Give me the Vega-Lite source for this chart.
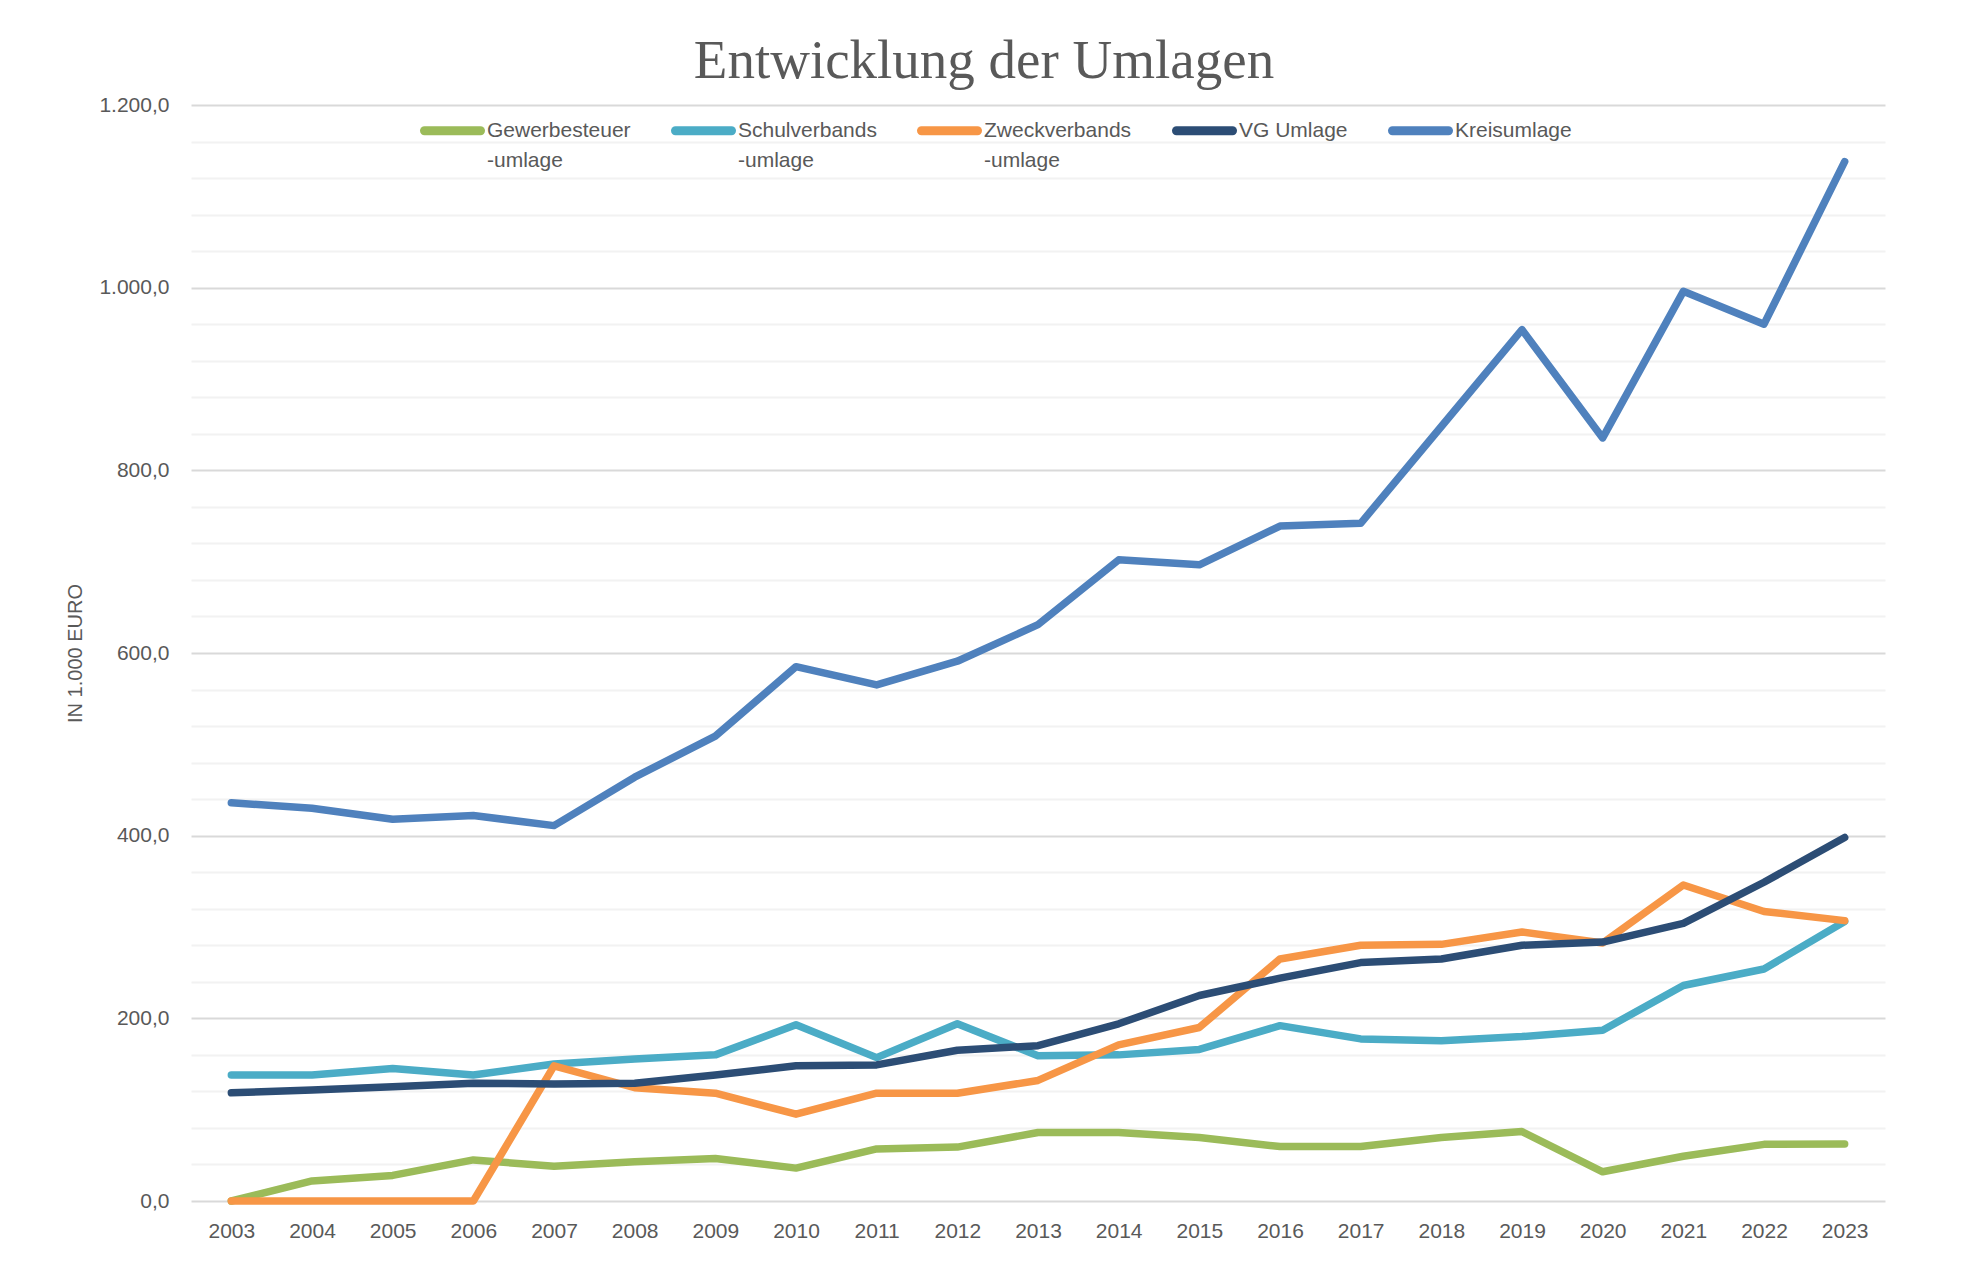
{
  "$schema": "https://vega.github.io/schema/vega-lite/v6.json",
  "width": 1694,
  "height": 1096,
  "autosize": {"type": "none"},
  "padding": {"left": 191, "top": 105, "right": 83, "bottom": 60},
  "background": "white",
  "config": {
    "view": {"stroke": null},
    "style": {"guide-label": {"lineHeight": 30}}
  },
  "title": {
    "text": "Entwicklung der Umlagen",
    "font": "Liberation Serif",
    "fontSize": 55,
    "fontWeight": "normal",
    "color": "#595959",
    "anchor": "middle",
    "dx": -54,
    "dy": 55,
    "offset": 16,
    "baseline": "alphabetic"
  },
  "data": {
    "values": [
      {"year": "2003", "series": "Gewerbesteuer|-umlage", "value": 0},
      {"year": "2004", "series": "Gewerbesteuer|-umlage", "value": 22},
      {"year": "2005", "series": "Gewerbesteuer|-umlage", "value": 28},
      {"year": "2006", "series": "Gewerbesteuer|-umlage", "value": 45},
      {"year": "2007", "series": "Gewerbesteuer|-umlage", "value": 38},
      {"year": "2008", "series": "Gewerbesteuer|-umlage", "value": 43},
      {"year": "2009", "series": "Gewerbesteuer|-umlage", "value": 46.5},
      {"year": "2010", "series": "Gewerbesteuer|-umlage", "value": 36},
      {"year": "2011", "series": "Gewerbesteuer|-umlage", "value": 57},
      {"year": "2012", "series": "Gewerbesteuer|-umlage", "value": 59},
      {"year": "2013", "series": "Gewerbesteuer|-umlage", "value": 75},
      {"year": "2014", "series": "Gewerbesteuer|-umlage", "value": 75},
      {"year": "2015", "series": "Gewerbesteuer|-umlage", "value": 69.5},
      {"year": "2016", "series": "Gewerbesteuer|-umlage", "value": 59.6},
      {"year": "2017", "series": "Gewerbesteuer|-umlage", "value": 59.6},
      {"year": "2018", "series": "Gewerbesteuer|-umlage", "value": 69.5},
      {"year": "2019", "series": "Gewerbesteuer|-umlage", "value": 76},
      {"year": "2020", "series": "Gewerbesteuer|-umlage", "value": 32},
      {"year": "2021", "series": "Gewerbesteuer|-umlage", "value": 49},
      {"year": "2022", "series": "Gewerbesteuer|-umlage", "value": 62},
      {"year": "2023", "series": "Gewerbesteuer|-umlage", "value": 62.5},
      {"year": "2003", "series": "Schulverbands|-umlage", "value": 138},
      {"year": "2004", "series": "Schulverbands|-umlage", "value": 138},
      {"year": "2005", "series": "Schulverbands|-umlage", "value": 145},
      {"year": "2006", "series": "Schulverbands|-umlage", "value": 138},
      {"year": "2007", "series": "Schulverbands|-umlage", "value": 150},
      {"year": "2008", "series": "Schulverbands|-umlage", "value": 155.5},
      {"year": "2009", "series": "Schulverbands|-umlage", "value": 160},
      {"year": "2010", "series": "Schulverbands|-umlage", "value": 193},
      {"year": "2011", "series": "Schulverbands|-umlage", "value": 157},
      {"year": "2012", "series": "Schulverbands|-umlage", "value": 194},
      {"year": "2013", "series": "Schulverbands|-umlage", "value": 159},
      {"year": "2014", "series": "Schulverbands|-umlage", "value": 160},
      {"year": "2015", "series": "Schulverbands|-umlage", "value": 166},
      {"year": "2016", "series": "Schulverbands|-umlage", "value": 192},
      {"year": "2017", "series": "Schulverbands|-umlage", "value": 177.5},
      {"year": "2018", "series": "Schulverbands|-umlage", "value": 175.5},
      {"year": "2019", "series": "Schulverbands|-umlage", "value": 180},
      {"year": "2020", "series": "Schulverbands|-umlage", "value": 187},
      {"year": "2021", "series": "Schulverbands|-umlage", "value": 236},
      {"year": "2022", "series": "Schulverbands|-umlage", "value": 254},
      {"year": "2023", "series": "Schulverbands|-umlage", "value": 306},
      {"year": "2003", "series": "Zweckverbands|-umlage", "value": 0},
      {"year": "2004", "series": "Zweckverbands|-umlage", "value": 0},
      {"year": "2005", "series": "Zweckverbands|-umlage", "value": 0},
      {"year": "2006", "series": "Zweckverbands|-umlage", "value": 0},
      {"year": "2007", "series": "Zweckverbands|-umlage", "value": 148},
      {"year": "2008", "series": "Zweckverbands|-umlage", "value": 124},
      {"year": "2009", "series": "Zweckverbands|-umlage", "value": 118},
      {"year": "2010", "series": "Zweckverbands|-umlage", "value": 95},
      {"year": "2011", "series": "Zweckverbands|-umlage", "value": 118},
      {"year": "2012", "series": "Zweckverbands|-umlage", "value": 118},
      {"year": "2013", "series": "Zweckverbands|-umlage", "value": 132},
      {"year": "2014", "series": "Zweckverbands|-umlage", "value": 171},
      {"year": "2015", "series": "Zweckverbands|-umlage", "value": 190},
      {"year": "2016", "series": "Zweckverbands|-umlage", "value": 265},
      {"year": "2017", "series": "Zweckverbands|-umlage", "value": 280},
      {"year": "2018", "series": "Zweckverbands|-umlage", "value": 281},
      {"year": "2019", "series": "Zweckverbands|-umlage", "value": 294.5},
      {"year": "2020", "series": "Zweckverbands|-umlage", "value": 282.5},
      {"year": "2021", "series": "Zweckverbands|-umlage", "value": 346},
      {"year": "2022", "series": "Zweckverbands|-umlage", "value": 317},
      {"year": "2023", "series": "Zweckverbands|-umlage", "value": 307},
      {"year": "2003", "series": "VG Umlage", "value": 118.5},
      {"year": "2004", "series": "VG Umlage", "value": 121.5},
      {"year": "2005", "series": "VG Umlage", "value": 125},
      {"year": "2006", "series": "VG Umlage", "value": 129},
      {"year": "2007", "series": "VG Umlage", "value": 128},
      {"year": "2008", "series": "VG Umlage", "value": 129},
      {"year": "2009", "series": "VG Umlage", "value": 138},
      {"year": "2010", "series": "VG Umlage", "value": 148},
      {"year": "2011", "series": "VG Umlage", "value": 149},
      {"year": "2012", "series": "VG Umlage", "value": 165},
      {"year": "2013", "series": "VG Umlage", "value": 170},
      {"year": "2014", "series": "VG Umlage", "value": 194},
      {"year": "2015", "series": "VG Umlage", "value": 225},
      {"year": "2016", "series": "VG Umlage", "value": 244},
      {"year": "2017", "series": "VG Umlage", "value": 261},
      {"year": "2018", "series": "VG Umlage", "value": 265},
      {"year": "2019", "series": "VG Umlage", "value": 280},
      {"year": "2020", "series": "VG Umlage", "value": 283.5},
      {"year": "2021", "series": "VG Umlage", "value": 304},
      {"year": "2022", "series": "VG Umlage", "value": 349},
      {"year": "2023", "series": "VG Umlage", "value": 398},
      {"year": "2003", "series": "Kreisumlage", "value": 436},
      {"year": "2004", "series": "Kreisumlage", "value": 430},
      {"year": "2005", "series": "Kreisumlage", "value": 418},
      {"year": "2006", "series": "Kreisumlage", "value": 422},
      {"year": "2007", "series": "Kreisumlage", "value": 411},
      {"year": "2008", "series": "Kreisumlage", "value": 464},
      {"year": "2009", "series": "Kreisumlage", "value": 509},
      {"year": "2010", "series": "Kreisumlage", "value": 585},
      {"year": "2011", "series": "Kreisumlage", "value": 565},
      {"year": "2012", "series": "Kreisumlage", "value": 591},
      {"year": "2013", "series": "Kreisumlage", "value": 631},
      {"year": "2014", "series": "Kreisumlage", "value": 702},
      {"year": "2015", "series": "Kreisumlage", "value": 696.5},
      {"year": "2016", "series": "Kreisumlage", "value": 739},
      {"year": "2017", "series": "Kreisumlage", "value": 742},
      {"year": "2018", "series": "Kreisumlage", "value": 848},
      {"year": "2019", "series": "Kreisumlage", "value": 954},
      {"year": "2020", "series": "Kreisumlage", "value": 835.5},
      {"year": "2021", "series": "Kreisumlage", "value": 996},
      {"year": "2022", "series": "Kreisumlage", "value": 960},
      {"year": "2023", "series": "Kreisumlage", "value": 1138}
    ]
  },
  "encoding": {
    "x": {
      "field": "year", "type": "ordinal",
      "scale": {"type": "point", "padding": 0.5},
      "axis": {
        "title": null, "labelAngle": 0, "ticks": false, "domain": false, "grid": false,
        "labelFont": "Liberation Sans", "labelFontSize": 21, "labelColor": "#595959",
        "labelPadding": 19
      }
    }
  },
  "layer": [
    {
      "mark": {"type": "line", "strokeOpacity": 0},
      "encoding": {
        "y": {
          "field": "value", "type": "quantitative",
          "scale": {"domain": [0, 1200], "nice": false, "zero": true},
          "axis": {
            "values": [40, 80, 120, 160, 240, 280, 320, 360, 440, 480, 520, 560, 640, 680, 720, 760, 840, 880, 920, 960, 1040, 1080, 1120, 1160],
            "grid": true, "gridColor": "#f2f2f2", "gridWidth": 2,
            "labels": false, "ticks": false, "domain": false, "title": null,
            "minExtent": 0, "maxExtent": 0, "orient": "left"
          }
        },
        "detail": {"field": "series"}
      }
    },
    {
      "mark": {"type": "line", "strokeWidth": 7.5, "strokeCap": "round", "strokeJoin": "round"},
      "encoding": {
        "y": {
          "field": "value", "type": "quantitative",
          "scale": {"domain": [0, 1200], "nice": false, "zero": true},
          "axis": {
            "orient": "left",
            "values": [0, 200, 400, 600, 800, 1000, 1200],
            "grid": true, "gridColor": "#d9d9d9", "gridWidth": 2,
            "ticks": false, "domain": false,
            "labelFont": "Liberation Sans", "labelFontSize": 21, "labelColor": "#595959",
            "labelPadding": 22,
            "labelExpr": "replace(replace(replace(format(datum.value, ',.1f'), ',', 'T'), '.', ','), 'T', '.')",
            "title": "IN 1.000 EURO",
            "titleFont": "Liberation Sans", "titleFontSize": 20, "titleFontWeight": "normal", "titleColor": "#595959",
            "titleAngle": -90, "titleX": -116, "titleY": 548, "titleAlign": "center", "titleBaseline": "middle"
          }
        },
        "color": {
          "field": "series", "type": "nominal",
          "scale": {
            "domain": ["Gewerbesteuer|-umlage", "Schulverbands|-umlage", "Zweckverbands|-umlage", "VG Umlage", "Kreisumlage"],
            "range": ["#9BBB59", "#4BACC6", "#F79646", "#2C4D75", "#4F81BD"]
          },
          "legend": {
            "orient": "none", "legendX": 229, "legendY": -7,
            "direction": "horizontal", "columns": 5, "title": null, "padding": 0,
            "symbolType": "stroke", "symbolStrokeWidth": 9, "symbolSize": 3136,
            "labelFont": "Liberation Sans", "labelFontSize": 21, "labelColor": "#595959",
            "labelOffset": 2, "columnPadding": 26, "labelLimit": 400,
            "labelBaseline": "top",
            "labelExpr": "indexof(datum.label, '|') >= 0 ? split(datum.label, '|') : [datum.label, ' ']",
            "encode": {
              "labels": {"update": {"dy": {"value": -11}}},
              "symbols": {"update": {"strokeCap": {"value": "round"}}}
            }
          }
        }
      }
    }
  ],
  "resolve": {"axis": {"y": "independent"}}
}
